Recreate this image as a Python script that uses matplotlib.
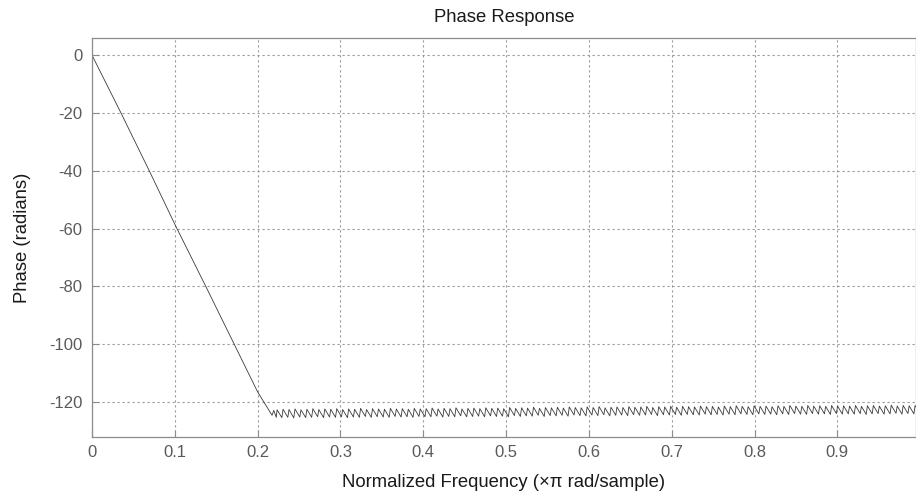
import numpy as np
import matplotlib
matplotlib.use("Agg")
import matplotlib.pyplot as plt

plt.rcParams["font.family"] = ["Liberation Sans", "DejaVu Sans"]
plt.rcParams["axes.unicode_minus"] = False

# linear-phase passband
ramp_freq = [0.0, 0.035, 0.07, 0.1, 0.14, 0.17, 0.2, 0.2174, 0.2195, 0.2225]
ramp_phase = [0.0, -20.0, -40.5, -58.5, -81.5, -99.0, -116.5, -124.6, -122.9, -125.3]

# stopband sawtooth: top after each pi jump, bottom before the next one
ripple_peak = [
    -122.7, -122.5, -122.6, -122.4, -122.7, -122.5, -122.3, -122.6, -122.4, -122.5, -122.3, -122.6,
    -122.4, -122.5, -122.2, -122.6, -122.3, -122.4, -122.5, -122.2, -122.4, -122.3, -122.5, -122.2,
    -122.4, -122.3, -122.1, -122.4, -122.2, -122.3, -122.0, -122.4, -122.2, -122.1, -122.3, -122.0,
    -122.2, -122.1, -122.3, -121.9, -122.2, -122.0, -122.1, -121.8, -122.2, -121.9, -122.0, -121.8,
    -122.1, -121.7, -121.9, -122.0, -121.7, -121.9, -121.6, -122.0, -121.8, -121.7, -121.9, -121.6,
    -121.8, -121.7, -121.5, -121.9, -121.6, -121.7, -121.5, -121.8, -121.5, -121.6, -121.7, -121.4,
    -121.6, -121.5, -121.7, -121.4, -121.6, -121.3, -121.5, -121.6, -121.3, -121.5, -121.4, -121.6,
    -121.3, -121.5, -121.2, -121.4, -121.5, -121.2, -121.4, -121.3, -121.5, -121.2, -121.4, -121.3,
    -121.4, -121.2, -121.5, -121.3, -121.2, -121.4, -121.3, -121.1, -121.4, -121.2, -121.3, -121.2,
]
ripple_trough = [
    -125.4, -125.3, -125.5, -125.2, -125.4, -125.3, -125.1, -125.4, -125.2, -125.3, -125.1, -125.4,
    -125.2, -125.3, -125.0, -125.3, -125.1, -125.2, -125.3, -125.0, -125.2, -125.1, -125.3, -125.0,
    -125.1, -125.1, -124.9, -125.2, -125.0, -125.1, -124.8, -125.1, -125.0, -124.9, -125.1, -124.8,
    -125.0, -124.9, -125.1, -124.7, -125.0, -124.8, -124.9, -124.6, -125.0, -124.7, -124.8, -124.6,
    -124.9, -124.5, -124.7, -124.8, -124.5, -124.7, -124.4, -124.8, -124.6, -124.5, -124.7, -124.4,
    -124.6, -124.5, -124.3, -124.7, -124.4, -124.5, -124.3, -124.6, -124.3, -124.4, -124.5, -124.2,
    -124.4, -124.3, -124.5, -124.2, -124.4, -124.1, -124.3, -124.4, -124.1, -124.3, -124.2, -124.4,
    -124.1, -124.3, -124.0, -124.2, -124.3, -124.0, -124.2, -124.1, -124.3, -124.0, -124.2, -124.1,
    -124.2, -124.0, -124.3, -124.1, -124.0, -124.2, -124.1, -123.9, -124.2, -124.0, -124.1, -124.0,
]
RIPPLE_START = 0.2235   # first stopband jump
RIPPLE_PERIOD = 0.0072  # spacing of the stopband zeros

xticks = [0, 0.1, 0.2, 0.3, 0.4, 0.5, 0.6, 0.7, 0.8, 0.9]
yticks = [0, -20, -40, -60, -80, -100, -120]

# frequency grid for the sawtooth: jump at each zero, linear fall until the next
n = len(ripple_peak)
f_peak = RIPPLE_START + RIPPLE_PERIOD * np.arange(n)
f_trough = f_peak + 0.8 * RIPPLE_PERIOD
freq = np.concatenate([ramp_freq, np.column_stack([f_peak, f_trough]).ravel()])
phase = np.concatenate([ramp_phase, np.column_stack([ripple_peak, ripple_trough]).ravel()])

fig = plt.figure(figsize=(9.16, 4.95), dpi=100)
ax = fig.add_axes([92 / 916, 58.3 / 495, 1.0 - 92 / 916, 398.3 / 495])

ax.plot(freq, phase, color="#3a3a3a", lw=0.6)

ax.set_xlim(0, 0.995)
ax.set_ylim(-132, 5.8)
ax.set_xticks(xticks)
ax.set_xticklabels([f"{t:g}" for t in xticks])
ax.set_yticks(yticks)

ax.grid(True, color="#9a9a9a", lw=0.8, linestyle=(0, (2, 2.5)))
for s in ax.spines.values():
    s.set_color("#8c8c8c")
    s.set_linewidth(0.9)
ax.tick_params(direction="in", length=5, width=0.8, color="#8c8c8c",
               labelcolor="#5a5a5a", labelsize=12, pad=6)
ax.tick_params(axis="y", pad=7)

ax.set_title("Phase Response", fontsize=13.3, color="#1a1a1a", pad=11.5)
ax.set_xlabel("Normalized Frequency (\u00d7\u03c0 rad/sample)", fontsize=13.3,
              color="#1a1a1a", labelpad=10)
ax.set_ylabel("Phase (radians)", fontsize=13.3, color="#1a1a1a", labelpad=13)

fig.savefig("out.png", dpi=100)
